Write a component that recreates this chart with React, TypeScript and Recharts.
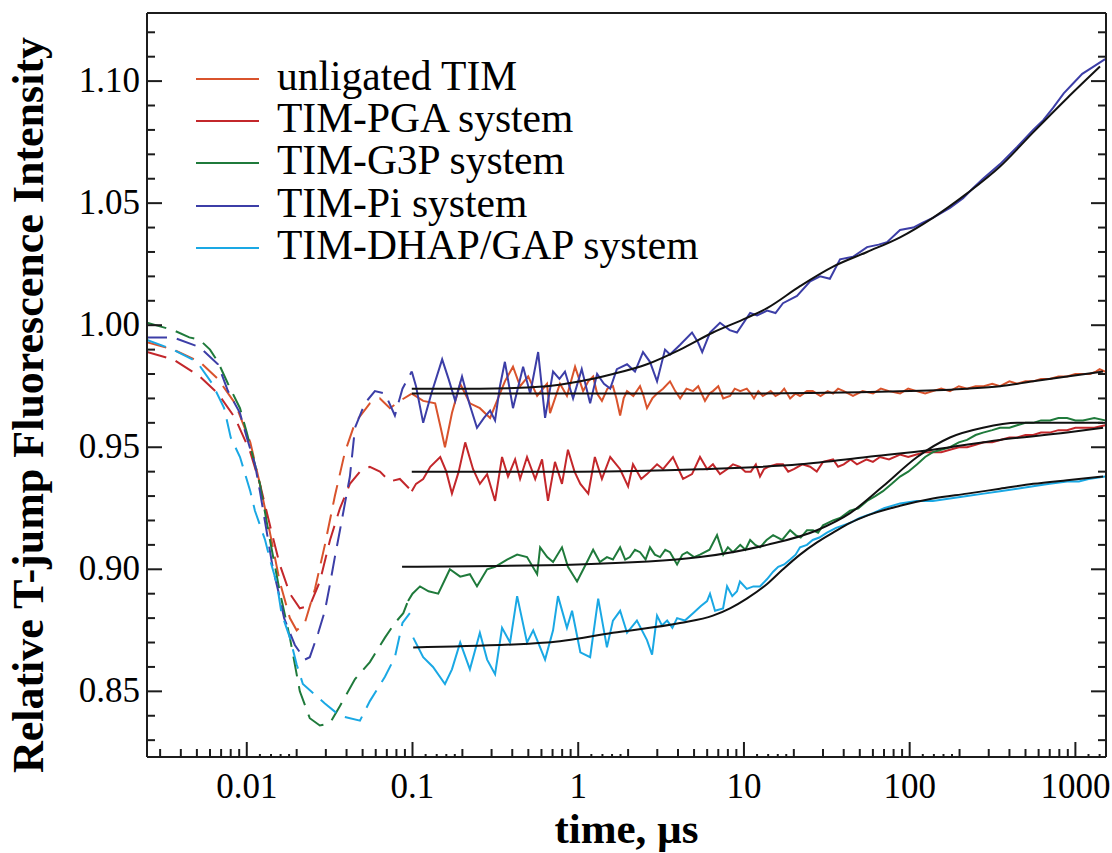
import React from "react";
import { LineChart, Line, XAxis, YAxis } from "recharts";

type Pt = [number, number];

// legend
const seriesNames = [
  "unligated TIM",
  "TIM-PGA system",
  "TIM-G3P system",
  "TIM-Pi system",
  "TIM-DHAP/GAP system",
];
const seriesColors = ["#d9532c", "#c3272b", "#1f7a3b", "#3c3ea7", "#1aa8e4"];

// axis ticks
const yMajorTicks = [0.85, 0.9, 0.95, 1.0, 1.05, 1.1];
const yMajorLabels = ["0.85", "0.90", "0.95", "1.00", "1.05", "1.10"];
const yMinorTicks = [
  0.83, 0.84, 0.86, 0.87, 0.88, 0.89, 0.91, 0.92, 0.93, 0.94, 0.96, 0.97, 0.98,
  0.99, 1.01, 1.02, 1.03, 1.04, 1.06, 1.07, 1.08, 1.09, 1.11, 1.12,
];
const xDecades = [0.001, 0.01, 0.1, 1, 10, 100, 1000];
const xDecadeLabels = ["0.001", "0.01", "0.1", "1", "10", "100", "1000"];
const xMidSteps = [2, 3, 4, 5, 6, 7, 8, 9];
const xFineSteps = [1.2, 1.4, 1.6, 1.8];

const X_DOMAIN: [number, number] = [0.0025, 1530];
const Y_DOMAIN: [number, number] = [0.8231, 1.1279];

// early-time part of each trace (dashed)
const unligatedDash: Pt[] = [
  [0.0025, 0.993], [0.0036, 0.99], [0.0052, 0.985], [0.0067, 0.978], [0.0085, 0.968],
  [0.0105, 0.952], [0.012, 0.935], [0.0138, 0.915], [0.0158, 0.895], [0.0182, 0.88],
  [0.02, 0.875], [0.0224, 0.878], [0.0258, 0.892], [0.0296, 0.91], [0.034, 0.93],
  [0.0391, 0.948], [0.045, 0.96], [0.0553, 0.968], [0.0636, 0.97], [0.0731, 0.966],
  [0.0839, 0.969], [0.099, 0.972],
];
const pgaDash: Pt[] = [
  [0.0025, 0.989], [0.0036, 0.986], [0.0052, 0.979], [0.0067, 0.972], [0.0085, 0.962],
  [0.0105, 0.948], [0.012, 0.935], [0.0138, 0.918], [0.0158, 0.902], [0.0182, 0.89],
  [0.0209, 0.884], [0.024, 0.885], [0.0276, 0.895], [0.0318, 0.912], [0.0365, 0.925],
  [0.0419, 0.935], [0.0482, 0.94], [0.0553, 0.942], [0.0636, 0.94], [0.0731, 0.936],
  [0.0839, 0.937], [0.099, 0.932],
];
const g3pDash: Pt[] = [
  [0.0025, 1.001], [0.0036, 0.998], [0.0045, 0.995], [0.0052, 0.994], [0.006, 0.99],
  [0.0067, 0.985], [0.0077, 0.976], [0.0091, 0.966], [0.01, 0.956], [0.0112, 0.943],
  [0.012, 0.935], [0.0138, 0.912], [0.0158, 0.891], [0.0182, 0.872], [0.0209, 0.85],
  [0.024, 0.839], [0.0276, 0.836], [0.0318, 0.837], [0.0365, 0.844], [0.045, 0.855],
  [0.0553, 0.862], [0.0682, 0.872], [0.0783, 0.878], [0.088, 0.882], [0.094, 0.887],
];
const piDash: Pt[] = [
  [0.0025, 0.995], [0.0036, 0.995], [0.0052, 0.991], [0.0067, 0.984], [0.0077, 0.973],
  [0.0091, 0.964], [0.01, 0.954], [0.0112, 0.943], [0.012, 0.932], [0.0144, 0.9],
  [0.0155, 0.891], [0.0168, 0.88], [0.0195, 0.869], [0.0224, 0.863], [0.024, 0.864],
  [0.027, 0.874], [0.0296, 0.883], [0.0318, 0.894], [0.034, 0.905], [0.0365, 0.916],
  [0.0419, 0.938], [0.045, 0.958], [0.0516, 0.968], [0.0593, 0.973], [0.0682, 0.972],
  [0.0783, 0.963], [0.087, 0.974], [0.099, 0.981],
];
const dhapDash: Pt[] = [
  [0.0025, 0.994], [0.0036, 0.99], [0.005, 0.985], [0.0062, 0.976], [0.0073, 0.966],
  [0.008, 0.954], [0.0091, 0.946], [0.0105, 0.932], [0.0112, 0.924], [0.0129, 0.912],
  [0.0138, 0.904], [0.0152, 0.894], [0.0162, 0.882], [0.0182, 0.872], [0.02, 0.861],
  [0.0218, 0.853], [0.0296, 0.845], [0.0365, 0.84], [0.0482, 0.838], [0.0553, 0.846],
  [0.0682, 0.856], [0.0783, 0.864], [0.087, 0.878], [0.0964, 0.882],
];

// measured traces (solid)
const unligatedTrace: Pt[] = [
  [0.099, 0.972], [0.116, 0.969], [0.137, 0.968], [0.148, 0.958], [0.157, 0.95],
  [0.173, 0.964], [0.194, 0.976], [0.222, 0.968], [0.255, 0.966], [0.294, 0.962],
  [0.337, 0.972], [0.361, 0.977], [0.404, 0.983], [0.446, 0.975], [0.499, 0.979],
  [0.565, 0.971], [0.648, 0.976], [0.676, 0.964], [0.776, 0.976], [0.855, 0.971],
  [0.957, 0.983], [1.07, 0.973], [1.15, 0.977], [1.23, 0.979], [1.3, 0.972],
  [1.39, 0.969], [1.5, 0.974], [1.62, 0.975], [1.7, 0.97], [1.79, 0.963],
  [1.88, 0.97], [1.97, 0.973], [2.15, 0.971], [2.36, 0.975], [2.48, 0.971],
  [2.6, 0.966], [2.8, 0.97], [2.99, 0.972], [3.25, 0.974], [3.58, 0.977],
  [3.85, 0.973], [4.12, 0.97], [4.5, 0.974], [4.93, 0.973], [5.3, 0.975],
  [5.82, 0.969], [6.2, 0.972], [6.5, 0.973], [7, 0.975], [7.5, 0.97],
  [8.24, 0.971], [8.8, 0.974], [9.5, 0.973], [10.4, 0.974], [11, 0.972],
  [11.5, 0.97], [12.2, 0.973], [13, 0.971], [14.5, 0.973], [15.5, 0.971],
  [16.5, 0.972], [17.5, 0.974], [19, 0.97], [20.5, 0.972], [21.8, 0.971],
  [24, 0.973], [26, 0.973], [29, 0.971], [32, 0.973], [34.5, 0.972],
  [37, 0.974], [40, 0.973], [45.5, 0.971], [52, 0.973], [60.1, 0.972],
  [67, 0.974], [75, 0.973], [87.5, 0.972], [98, 0.974], [110, 0.973],
  [124, 0.972], [138, 0.973], [155, 0.974], [175, 0.973], [198, 0.975],
  [222, 0.974], [250, 0.975], [280, 0.975], [315, 0.976], [351, 0.975],
  [400, 0.977], [445, 0.976], [500, 0.977], [556, 0.977], [620, 0.978],
  [700, 0.978], [790, 0.979], [891, 0.979], [1000, 0.98], [1100, 0.98],
  [1225, 0.98], [1330, 0.981], [1400, 0.982], [1511, 0.981],
];
const pgaTrace: Pt[] = [
  [0.099, 0.932], [0.105, 0.935], [0.116, 0.937], [0.128, 0.942], [0.147, 0.946],
  [0.16, 0.94], [0.173, 0.931], [0.19, 0.94], [0.208, 0.952], [0.232, 0.941],
  [0.255, 0.935], [0.282, 0.939], [0.315, 0.928], [0.347, 0.946], [0.377, 0.938],
  [0.416, 0.945], [0.446, 0.937], [0.491, 0.946], [0.55, 0.937], [0.605, 0.945],
  [0.657, 0.928], [0.724, 0.944], [0.798, 0.935], [0.867, 0.949], [0.95, 0.94],
  [1.03, 0.935], [1.15, 0.931], [1.26, 0.946], [1.39, 0.937], [1.56, 0.946],
  [1.79, 0.941], [2.0, 0.934], [2.14, 0.943], [2.4, 0.937], [2.6, 0.939],
  [2.99, 0.943], [3.25, 0.941], [3.73, 0.946], [4.29, 0.937], [4.86, 0.939],
  [5.43, 0.946], [6.0, 0.941], [6.5, 0.943], [7.17, 0.939], [7.91, 0.941],
  [8.59, 0.943], [9.46, 0.942], [10.2, 0.94], [11, 0.94], [11.8, 0.943],
  [12.5, 0.938], [13.2, 0.941], [14, 0.942], [15.8, 0.943], [17.2, 0.943],
  [18.5, 0.94], [20, 0.941], [22.5, 0.943], [25.1, 0.942], [27.5, 0.94],
  [30, 0.944], [34.5, 0.945], [37, 0.942], [40, 0.943], [44, 0.945],
  [48.1, 0.943], [55, 0.945], [60, 0.944], [66.2, 0.946], [75, 0.945],
  [87.5, 0.947], [98, 0.946], [110, 0.947], [124, 0.948], [138, 0.948],
  [155, 0.948], [175, 0.949], [198, 0.95], [222, 0.95], [250, 0.951],
  [280, 0.952], [315, 0.952], [351, 0.953], [400, 0.954], [445, 0.954],
  [500, 0.955], [556, 0.955], [620, 0.956], [700, 0.956], [790, 0.957],
  [891, 0.957], [1000, 0.958], [1100, 0.958], [1300, 0.958], [1511, 0.959],
];
const g3pTrace: Pt[] = [
  [0.094, 0.887], [0.1, 0.89], [0.111, 0.893], [0.125, 0.891], [0.143, 0.89],
  [0.155, 0.895], [0.168, 0.9], [0.194, 0.897], [0.222, 0.898], [0.245, 0.893],
  [0.282, 0.9], [0.315, 0.901], [0.372, 0.904], [0.428, 0.906], [0.491, 0.905],
  [0.565, 0.898], [0.589, 0.909], [0.65, 0.905], [0.705, 0.903], [0.798, 0.909],
  [0.867, 0.901], [0.984, 0.895], [1.13, 0.903], [1.23, 0.908], [1.35, 0.903],
  [1.49, 0.905], [1.62, 0.904], [1.79, 0.909], [1.92, 0.904], [2.05, 0.905],
  [2.2, 0.908], [2.36, 0.907], [2.55, 0.904], [2.71, 0.909], [2.9, 0.906],
  [3.12, 0.905], [3.35, 0.908], [3.58, 0.907], [3.95, 0.902], [4.25, 0.906],
  [4.54, 0.907], [5.0, 0.905], [5.43, 0.906], [6.2, 0.908], [6.88, 0.914],
  [7.5, 0.906], [8.0, 0.909], [8.59, 0.907], [9.5, 0.91], [10.2, 0.908],
  [10.9, 0.912], [11.7, 0.91], [12.5, 0.909], [13.7, 0.912], [15, 0.914],
  [17, 0.912], [19, 0.916], [20.5, 0.914], [22, 0.913], [24, 0.916],
  [26.1, 0.916], [28, 0.915], [30, 0.918], [34.5, 0.92], [38, 0.921],
  [43.7, 0.924], [49, 0.925], [55.3, 0.928], [62, 0.93], [69, 0.932],
  [78, 0.935], [87.5, 0.938], [98, 0.94], [111, 0.943], [124, 0.946],
  [138, 0.948], [155, 0.949], [175, 0.95], [198, 0.952], [222, 0.953],
  [250, 0.955], [277, 0.956], [315, 0.957], [351, 0.958], [400, 0.958],
  [445, 0.959], [500, 0.96], [556, 0.96], [620, 0.961], [703, 0.961],
  [790, 0.962], [891, 0.962], [1000, 0.961], [1112, 0.961], [1300, 0.962],
  [1511, 0.961],
];
const piTrace: Pt[] = [
  [0.099, 0.981], [0.105, 0.975], [0.116, 0.96], [0.13, 0.972], [0.151, 0.986],
  [0.165, 0.978], [0.181, 0.969], [0.199, 0.979], [0.22, 0.968], [0.245, 0.958],
  [0.27, 0.962], [0.294, 0.965], [0.315, 0.961], [0.337, 0.975], [0.361, 0.985],
  [0.404, 0.966], [0.465, 0.983], [0.513, 0.972], [0.573, 0.989], [0.631, 0.962],
  [0.705, 0.981], [0.77, 0.978], [0.832, 0.981], [0.931, 0.97], [1.05, 0.982],
  [1.18, 0.968], [1.3, 0.98], [1.43, 0.976], [1.56, 0.974], [1.71, 0.982],
  [1.97, 0.984], [2.2, 0.981], [2.46, 0.989], [2.71, 0.985], [2.99, 0.977],
  [3.34, 0.99], [3.58, 0.988], [4.12, 0.992], [4.86, 0.997], [5.28, 0.993],
  [5.6, 0.989], [6.24, 0.997], [7.17, 1.001], [8.2, 0.998], [9.08, 0.997],
  [10.9, 1.005], [12, 1.004], [13.8, 1.006], [15.5, 1.005], [17.2, 1.009],
  [20.9, 1.012], [25.1, 1.018], [28.8, 1.02], [33, 1.019], [38, 1.027],
  [45.5, 1.028], [55.3, 1.032], [65, 1.033], [73, 1.034], [87.5, 1.039],
  [105, 1.04], [120, 1.042], [138, 1.044], [175, 1.048], [210, 1.052],
  [240, 1.056], [277, 1.06], [351, 1.066], [445, 1.073], [556, 1.08],
  [640, 1.084], [733, 1.089], [850, 1.095], [968, 1.099], [1100, 1.103],
  [1225, 1.105], [1511, 1.109],
];
const dhapTrace: Pt[] = [
  [0.101, 0.872], [0.116, 0.864], [0.133, 0.86], [0.157, 0.853], [0.173, 0.859],
  [0.194, 0.87], [0.222, 0.859], [0.255, 0.874], [0.282, 0.863], [0.315, 0.857],
  [0.347, 0.876], [0.388, 0.87], [0.428, 0.889], [0.491, 0.87], [0.535, 0.875],
  [0.631, 0.863], [0.705, 0.875], [0.755, 0.889], [0.855, 0.876], [0.918, 0.883],
  [1.03, 0.866], [1.18, 0.864], [1.32, 0.888], [1.49, 0.868], [1.62, 0.879],
  [1.79, 0.883], [1.97, 0.874], [2.26, 0.879], [2.6, 0.871], [2.79, 0.865],
  [2.99, 0.881], [3.2, 0.877], [3.44, 0.879], [3.7, 0.876], [3.95, 0.88],
  [4.4, 0.879], [4.93, 0.882], [5.5, 0.885], [5.99, 0.887], [6.24, 0.89],
  [6.69, 0.883], [7.48, 0.884], [7.91, 0.893], [8.5, 0.889], [9.08, 0.891],
  [9.46, 0.895], [10.4, 0.892], [11.4, 0.893], [12.5, 0.893], [13.8, 0.896],
  [15, 0.899], [16.1, 0.901], [17.5, 0.902], [19, 0.904], [20.5, 0.906],
  [21.8, 0.909], [24, 0.91], [26, 0.912], [28.5, 0.913], [31.7, 0.915],
  [36, 0.917], [43.7, 0.919], [50, 0.921], [60.1, 0.923], [70, 0.925],
  [87.5, 0.927], [110, 0.928], [138, 0.928], [175, 0.929], [222, 0.93],
  [280, 0.931], [351, 0.932], [445, 0.933], [556, 0.934], [700, 0.935],
  [891, 0.936], [1050, 0.936], [1200, 0.937], [1511, 0.938],
];

// fitted curves (black)
const unligatedFit: Pt[] = [
  [0.099, 0.972], [1, 0.972], [10, 0.972], [50, 0.9725], [100, 0.973], [222, 0.974],
  [351, 0.975], [556, 0.977], [891, 0.979], [1469, 0.981],
];
const pgaFit: Pt[] = [
  [0.099, 0.94], [1, 0.94], [5.43, 0.941], [21.8, 0.943], [55.3, 0.946], [138, 0.949],
  [351, 0.953], [891, 0.956], [1469, 0.958],
];
const g3pFit: Pt[] = [
  [0.0865, 0.901], [1, 0.902], [5.43, 0.905], [13.8, 0.91], [27.6, 0.916], [43.7, 0.923],
  [69, 0.934], [111, 0.946], [175, 0.954], [277, 0.958], [445, 0.96], [891, 0.96],
  [1469, 0.96],
];
const piFit: Pt[] = [
  [0.099, 0.974], [0.255, 0.974], [0.648, 0.975], [1.03, 0.977], [1.62, 0.98],
  [2.6, 0.984], [4.12, 0.99], [6.5, 0.997], [10.4, 1.003], [13.8, 1.007],
  [21.8, 1.016], [34.5, 1.024], [55.3, 1.03], [87.5, 1.036], [138, 1.044],
  [222, 1.054], [351, 1.065], [556, 1.079], [891, 1.093], [1409, 1.106],
];
const dhapFit: Pt[] = [
  [0.101, 0.868], [0.648, 0.87], [1.62, 0.874], [4.12, 0.878], [6.5, 0.881],
  [8.24, 0.884], [10.4, 0.888], [13.8, 0.894], [17.2, 0.9], [21.8, 0.906],
  [27.6, 0.911], [34.5, 0.915], [43.7, 0.919], [55.3, 0.922], [87.5, 0.926],
  [138, 0.929], [222, 0.931], [351, 0.933], [556, 0.935], [891, 0.9365], [1469, 0.938],
];

const dashParts = [unligatedDash, pgaDash, g3pDash, piDash, dhapDash];
const traceParts = [unligatedTrace, pgaTrace, g3pTrace, piTrace, dhapTrace];
const fitParts = [unligatedFit, pgaFit, g3pFit, piFit, dhapFit];

const FONT = '"Liberation Serif", "Times New Roman", serif';
const INK = "#1c1c1c";

const toRows = (pts: Pt[]) => pts.map(([t, v]) => ({ t, v }));

const near = (a: number, b: number) => Math.abs(a / b - 1) < 1e-6;

const xMajor = xDecades.filter((d) => d >= X_DOMAIN[0] && d <= X_DOMAIN[1]);
const xMid = xDecades
  .flatMap((d) => xMidSteps.map((m) => d * m))
  .filter((v) => v >= X_DOMAIN[0] && v <= X_DOMAIN[1]);
const xFine = xDecades
  .flatMap((d) => xFineSteps.map((m) => d * m))
  .filter((v) => v >= X_DOMAIN[0] && v <= X_DOMAIN[1]);
const xTicks = [...xMajor, ...xMid, ...xFine].sort((a, b) => a - b);
const yTicks = [...yMajorTicks, ...yMinorTicks].sort((a, b) => a - b);

const BottomTick = (props: any) => {
  const { x, y, payload } = props;
  const v = payload.value;
  const di = xDecades.findIndex((d) => near(v, d));
  const fine = xFine.some((f) => near(v, f));
  const len = di >= 0 ? 15 : fine ? 3 : 8;
  return (
    <g>
      <line x1={x} y1={y} x2={x} y2={y - len} stroke={INK} strokeWidth={2} />
      {di >= 0 && (
        <text x={x} y={y + 41} textAnchor="middle" fontFamily={FONT} fontSize={35} fill="#000">
          {xDecadeLabels[di]}
        </text>
      )}
    </g>
  );
};

const LeftTick = (props: any) => {
  const { x, y, payload } = props;
  const mi = yMajorTicks.findIndex((m) => Math.abs(m - payload.value) < 1e-6);
  const len = mi >= 0 ? 15 : 8;
  return (
    <g>
      <line x1={x} y1={y} x2={x + len} y2={y} stroke={INK} strokeWidth={2} />
      {mi >= 0 && (
        <text x={x - 7} y={y + 11} textAnchor="end" fontFamily={FONT} fontSize={35} fill="#000">
          {yMajorLabels[mi]}
        </text>
      )}
    </g>
  );
};

const RightTick = (props: any) => {
  const { x, y, payload } = props;
  const mi = yMajorTicks.findIndex((m) => Math.abs(m - payload.value) < 1e-6);
  const len = mi >= 0 ? 15 : 8;
  return <line x1={x} y1={y} x2={x - len} y2={y} stroke={INK} strokeWidth={2} />;
};

export default function App() {
  return (
    <div style={{ position: "absolute", left: 0, top: 0, width: 1112, height: 853, background: "#fff" }}>
      <LineChart width={1112} height={853} margin={{ top: 0, right: 0, bottom: 0, left: 0 }}>
        <XAxis
          xAxisId="bottom"
          dataKey="t"
          type="number"
          scale="log"
          domain={X_DOMAIN}
          allowDataOverflow
          ticks={xTicks}
          interval={0}
          tickSize={0}
          tickMargin={0}
          tickLine={false}
          tick={BottomTick}
          height={96}
          axisLine={{ stroke: INK, strokeWidth: 2 }}
          label={(p: any) => {
            const vb = p.viewBox;
            return (
              <text
                x={vb.x + vb.width / 2}
                y={vb.y + 86}
                textAnchor="middle"
                fontFamily={FONT}
                fontWeight="bold"
                fontSize={43}
                fill="#000"
              >
                time, µs
              </text>
            );
          }}
        />
        <XAxis
          xAxisId="top"
          orientation="top"
          dataKey="t"
          type="number"
          scale="log"
          domain={X_DOMAIN}
          allowDataOverflow
          height={13}
          tick={false}
          tickLine={false}
          axisLine={{ stroke: INK, strokeWidth: 2 }}
        />
        <YAxis
          yAxisId="left"
          type="number"
          domain={Y_DOMAIN}
          allowDataOverflow
          ticks={yTicks}
          interval={0}
          tickSize={0}
          tickMargin={0}
          tickLine={false}
          tick={LeftTick}
          width={147}
          axisLine={{ stroke: INK, strokeWidth: 2 }}
          label={(p: any) => {
            const vb = p.viewBox;
            const cx = vb.x + 43;
            const cy = vb.y + vb.height / 2 + 20;
            return (
              <text
                x={cx}
                y={cy}
                transform={`rotate(-90, ${cx}, ${cy})`}
                textAnchor="middle"
                fontFamily={FONT}
                fontWeight="bold"
                fontSize={44}
                fill="#000"
              >
                Relative T-jump Fluorescence Intensity
              </text>
            );
          }}
        />
        <YAxis
          yAxisId="right"
          orientation="right"
          type="number"
          domain={Y_DOMAIN}
          allowDataOverflow
          ticks={yTicks}
          interval={0}
          tickSize={0}
          tickMargin={0}
          tickLine={false}
          tick={RightTick}
          width={6}
          axisLine={{ stroke: INK, strokeWidth: 2 }}
        />

        {dashParts.map((pts, i) => (
          <Line
            key={`dash-${i}`}
            xAxisId="bottom"
            yAxisId="left"
            data={toRows(pts)}
            dataKey="v"
            type="linear"
            stroke={seriesColors[i]}
            strokeWidth={2}
            strokeDasharray="20 10"
            dot={false}
            activeDot={false}
            isAnimationActive={false}
          />
        ))}
        {traceParts.map((pts, i) => (
          <Line
            key={`trace-${i}`}
            xAxisId="bottom"
            yAxisId="left"
            data={toRows(pts)}
            dataKey="v"
            type="linear"
            stroke={seriesColors[i]}
            strokeWidth={2}
            dot={false}
            activeDot={false}
            isAnimationActive={false}
          />
        ))}
        {fitParts.map((pts, i) => (
          <Line
            key={`fit-${i}`}
            xAxisId="bottom"
            yAxisId="left"
            data={toRows(pts)}
            dataKey="v"
            type="monotone"
            stroke="#111"
            strokeWidth={2}
            dot={false}
            activeDot={false}
            isAnimationActive={false}
          />
        ))}
      </LineChart>

      <div style={{ position: "absolute", left: 196, top: 55, fontFamily: FONT, color: "#000" }}>
        {seriesNames.map((name, i) => (
          <div key={name} style={{ display: "flex", alignItems: "center", height: 42.2 }}>
            <span
              style={{
                display: "inline-block",
                width: 63,
                height: 2,
                background: seriesColors[i],
                marginRight: 18,
                position: "relative",
                top: 3,
              }}
            />
            <span style={{ fontSize: 41.5, lineHeight: "42.2px", whiteSpace: "nowrap" }}>{name}</span>
          </div>
        ))}
      </div>
    </div>
  );
}
